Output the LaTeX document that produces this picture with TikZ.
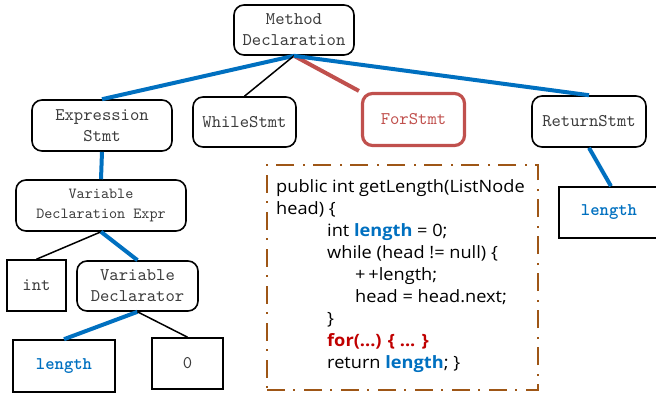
\documentclass[tikz,border=0pt]{standalone}
\usepackage{fontspec}
\setmainfont{Open Sans}[FakeStretch=1.07]
\newfontfamily\treefont{lmmono10-regular}[Extension=.otf,BoldFont=lmmonolt10-bold]
\definecolor{tblue}{RGB}{0,112,192}
\definecolor{tred}{RGB}{192,80,77}
\definecolor{cred}{RGB}{192,0,0}
\definecolor{tbrown}{RGB}{158,86,22}
\definecolor{tgray}{RGB}{60,60,60}
\begin{document}
\begin{tikzpicture}[x=1pt,y=-1pt,
  rbox/.style={draw=black,line width=1.6pt,rounded corners=10pt,align=center,
    font=\treefont\fontsize{17.8}{21}\selectfont,text=tgray,inner sep=0pt},
  sbox/.style={draw=black,line width=1.6pt,align=center,
    font=\treefont\fontsize{17.8}{21}\selectfont,text=tgray,inner sep=0pt},
  thick blue/.style={draw=tblue,line width=4pt},
  thin black/.style={draw=black,line width=1.5pt}]
\useasboundingbox (0,0) rectangle (656,392);
% tree nodes
\node[rbox,minimum width=120pt,minimum height=50pt] (md) at (294,30) {Method\\Declaration};
\node[rbox,minimum width=140pt,minimum height=51pt] (es) at (102,125.5) {Expression\\Stmt};
\node[rbox,minimum width=103pt,minimum height=50pt] (ws) at (244.5,122) {WhileStmt};
\node[rbox,draw=tred,line width=3.2pt,text=tred,minimum width=102pt,minimum height=52pt] (fs) at (413.5,119.5) {ForStmt};
\node[rbox,minimum width=114pt,minimum height=51pt] (rs) at (589,121.5) {ReturnStmt};
\node[rbox,minimum width=170pt,minimum height=51pt,font=\treefont\fontsize{15.4}{20}\selectfont] (vde) at (101,205.5) {Variable\\Declaration Expr};
\node[sbox,minimum width=59pt,minimum height=51pt] (int) at (36.5,285.5) {int};
\node[rbox,minimum width=121pt,minimum height=50pt] (vd) at (137.5,286) {Variable\\Declarator};
\node[sbox,minimum width=102pt,minimum height=52pt,text=tblue,font=\treefont\fontsize{17.8}{21}\selectfont\bfseries] (len1) at (64,366) {length};
\node[sbox,minimum width=71pt,minimum height=51pt] (zero) at (187.5,363.5) {0};
\node[sbox,minimum width=100pt,minimum height=51pt,text=tblue,font=\treefont\fontsize{17.8}{21}\selectfont\bfseries] (len2) at (609,212.5) {length};
% edges
\draw[thick blue] (md.south) -- (es.north);
\draw[thin black] (md.south) -- (ws.north);
\draw[draw=tred,line width=4pt] (md.south) -- ([xshift=-2pt,yshift=1pt]fs.north west);
\draw[thick blue] (md.south) -- (rs.north);
\draw[thick blue] (es.south) -- (vde.north);
\draw[thin black] (vde.south) -- (int.north);
\draw[thick blue] (vde.south) -- (vd.north);
\draw[thick blue] (vd.south) -- (len1.north);
\draw[thin black] (vd.south) -- (zero.north);
\draw[thick blue] (rs.south) -- ([xshift=2pt]len2.north);
% code box
\node[draw=tbrown,line width=2.5pt,dash pattern=on 18pt off 8pt on 2pt off 9pt,
  minimum width=271pt,minimum height=225pt,inner sep=0pt] (code) at (402.5,277.5) {};
\node[anchor=north west,align=left,inner sep=0pt,font=\fontsize{17}{22.1}\selectfont,text=black] (txt) at (276,179)
{public int getLength(ListNode\\
head) \{\\
\hspace*{51pt}int \textcolor{tblue}{\bfseries length} = 0;\\
\hspace*{51pt}while (head != null) \{\\
\hspace*{79pt}+\,+length;\\
\hspace*{79pt}head = head.next;\\
\hspace*{51pt}\}\\
\hspace*{51pt}\textcolor{cred}{\bfseries for(...) \{ ... \}}\\
\hspace*{51pt}return \textcolor{tblue}{\bfseries length}; \}};
\end{tikzpicture}
\end{document}
